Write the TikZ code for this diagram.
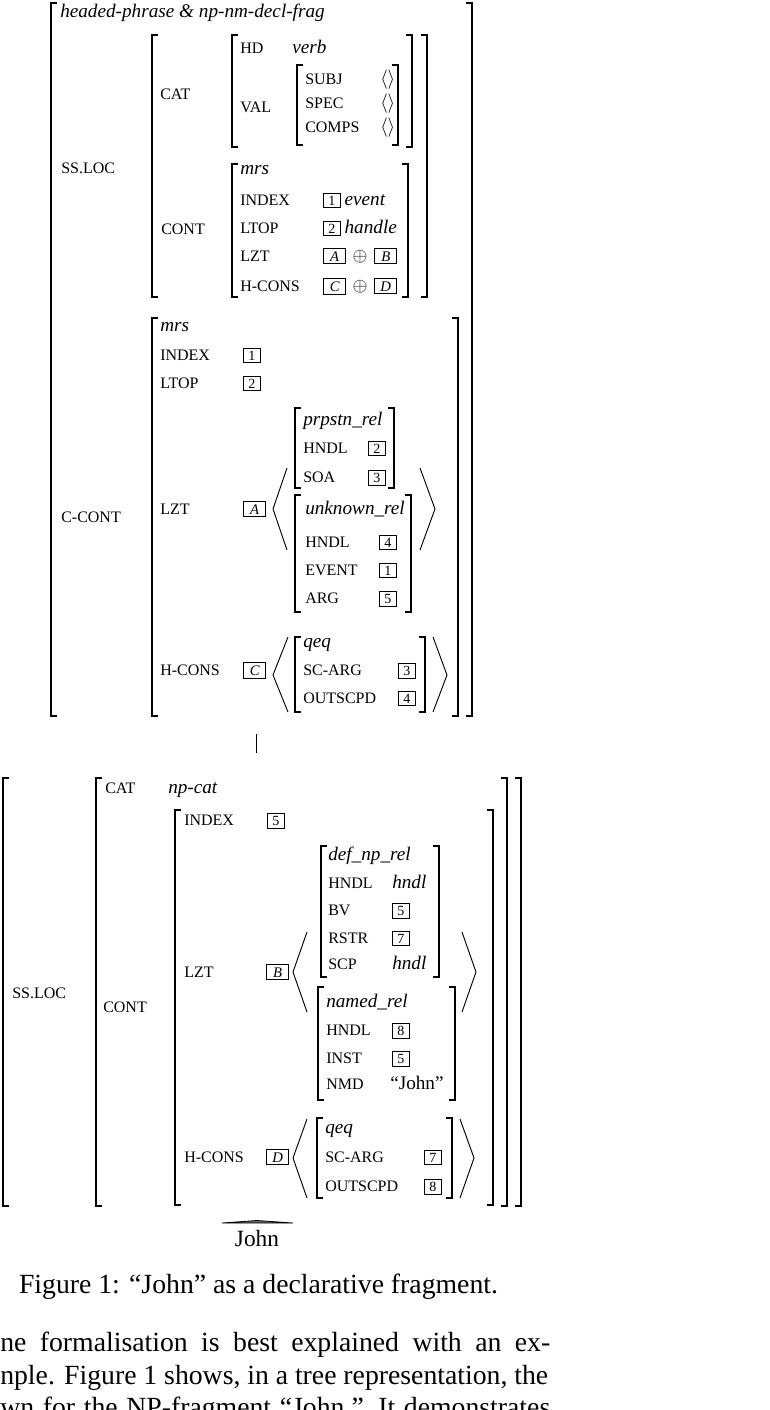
\documentclass[tikz,border=0pt]{standalone}
\usepackage{fontspec}
\setmainfont{Liberation Serif}
% boxed structure-sharing tags
\newcommand\tg[1]{{\setlength\fboxsep{1.8pt}\setlength\fboxrule{0.5pt}\fbox{\makebox[8.4pt]{\fontsize{10.5}{10.5}\selectfont #1}}}}
\newcommand\tgl[1]{{\setlength\fboxsep{1.8pt}\setlength\fboxrule{0.5pt}\fbox{\makebox[12.5pt]{\fontsize{11}{11}\selectfont\itshape #1}}}}
% square brackets of the feature structures
\newcommand\lbk[3]{\draw[brk] ({#1+6},#2) -- (#1,#2) -- (#1,#3) -- ({#1+6},#3);}
\newcommand\rbk[3]{\draw[brk] ({#1-6},#2) -- (#1,#2) -- (#1,#3) -- ({#1-6},#3);}
\tikzset{
  lab/.style={anchor=base west, inner sep=0pt, font=\fontsize{12}{14}\selectfont},
  val/.style={anchor=base west, inner sep=0pt, font=\fontsize{14.4}{17}\selectfont},
  typ/.style={anchor=base west, inner sep=0pt, font=\fontsize{14.4}{17}\selectfont\itshape},
  body/.style={anchor=base west, inner sep=0pt, font=\fontsize{20.8}{25}\selectfont},
  brk/.style={line width=1pt},
  ang/.style={line width=0.7pt},
  edge/.style={line width=0.6pt},
}
\begin{document}
\begin{tikzpicture}[x=0.75pt,y=-0.75pt]
\useasboundingbox (0,0) rectangle (769,1410);
\clip (0,0) rectangle (769,1410);

% ---------------- mother node ----------------
\lbk{51}{3}{716} \rbk{472}{3}{716}
\node[typ] (hp) at (60,17) {headed-phrase \& np-nm-decl-frag};

\node[lab] (sslocA) at (61,173) {SS.LOC};
\lbk{152}{35}{297} \rbk{427}{35}{297}
\node[lab] (catA) at (160,99) {CAT};
\lbk{232}{35}{147} \rbk{412}{35}{147}
\node[lab] (hd) at (240,53) {HD};
\node[typ] (verb) at (292,53) {verb};
\node[lab] (valA) at (240,112) {VAL};
\lbk{297}{65}{145} \rbk{398}{65}{145}
\node[lab] (subj) at (305,84) {SUBJ};
\node[val] (subjv) at (380,84) {$\langle\rangle$};
\node[lab] (spec) at (305,108) {SPEC};
\node[val] (specv) at (380,108) {$\langle\rangle$};
\node[lab] (comps) at (305,132) {COMPS};
\node[val] (compsv) at (380,132) {$\langle\rangle$};

\node[lab] (contA) at (161,234) {CONT};
\lbk{232}{164}{297} \rbk{408}{164}{297}
\node[typ] (mrsA) at (240,174) {mrs};
\node[lab] (indexA) at (240,205) {INDEX};
\node[val] (indexAv) at (323,205) {\tg{1}\hspace{3pt}\textit{event}};
\node[lab] (ltopA) at (240,233) {LTOP};
\node[val] (ltopAv) at (323,233) {\tg{2}\hspace{3pt}\textit{handle}};
\node[lab] (lztA) at (240,261) {LZT};
\node[val] (lztAv) at (323,261) {\tgl{A}\hspace{5pt}$\oplus$\hspace{5pt}\tgl{B}};
\node[lab] (hconsA) at (240,291) {H-CONS};
\node[val] (hconsAv) at (323,291) {\tgl{C}\hspace{5pt}$\oplus$\hspace{5pt}\tgl{D}};

\node[lab] (ccont) at (61,522) {C-CONT};
\lbk{152}{318}{716} \rbk{458}{318}{716}
\node[typ] (mrsB) at (160,331) {mrs};
\node[lab] (indexB) at (160,360) {INDEX};
\node[val] (indexBv) at (243,360) {\tg{1}};
\node[lab] (ltopB) at (160,388) {LTOP};
\node[val] (ltopBv) at (243,388) {\tg{2}};
\node[lab] (lztB) at (160,514) {LZT};
\node[val] (lztBv) at (243,514) {\tgl{A}};
\draw[ang] (287,468) -- (273,509) -- (287,550);
\draw[ang] (420,468) -- (435,509) -- (420,550);

\lbk{295}{408}{488} \rbk{394}{408}{488}
\node[typ] (prp) at (303,425) {prpstn\_rel};
\node[lab] (prph) at (303,453) {HNDL};
\node[val] (prphv) at (368,453) {\tg{2}};
\node[lab] (prps) at (303,482) {SOA};
\node[val] (prpsv) at (368,482) {\tg{3}};

\lbk{295}{495}{612} \rbk{411}{495}{612}
\node[typ] (unk) at (305,514) {unknown\_rel};
\node[lab] (unkh) at (305,547) {HNDL};
\node[val] (unkhv) at (379,547) {\tg{4}};
\node[lab] (unke) at (305,575) {EVENT};
\node[val] (unkev) at (379,575) {\tg{1}};
\node[lab] (unka) at (305,603) {ARG};
\node[val] (unkav) at (379,603) {\tg{5}};

\node[lab] (hconsB) at (160,675) {H-CONS};
\node[val] (hconsBv) at (243,675) {\tgl{C}};
\draw[ang] (288,637) -- (273,675) -- (288,712);
\draw[ang] (433,637) -- (447,675) -- (433,712);
\lbk{295}{637}{712} \rbk{425}{637}{712}
\node[typ] (qeqA) at (303,647) {qeq};
\node[lab] (scA) at (303,675) {SC-ARG};
\node[val] (scAv) at (398,675) {\tg{3}};
\node[lab] (outA) at (303,703) {OUTSCPD};
\node[val] (outAv) at (398,703) {\tg{4}};

% ---------------- tree edge ----------------
\coordinate (mfoot) at (256,734);
\coordinate (dhead) at (256,753);
\draw[edge] (mfoot) -- (dhead);

% ---------------- daughter node ----------------
\lbk{3}{778}{1206} \rbk{521}{778}{1206}
\node[lab] (sslocC) at (12,998) {SS.LOC};
\lbk{96}{778}{1206} \rbk{507}{778}{1206}
\node[lab] (catC) at (105,793) {CAT};
\node[typ] (npcat) at (168,793) {np-cat};
\node[lab] (contC) at (103,1012) {CONT};
\lbk{175}{810}{1205} \rbk{493}{810}{1205}
\node[lab] (indexC) at (184,825) {INDEX};
\node[val] (indexCv) at (267,825) {\tg{5}};
\node[lab] (lztC) at (184,977) {LZT};
\node[val] (lztCv) at (266,977) {\tgl{B}};
\draw[ang] (307,932) -- (293,972) -- (307,1012);
\draw[ang] (462,932) -- (476,972) -- (462,1012);

\lbk{321}{846}{977} \rbk{439}{846}{977}
\node[typ] (def) at (328,860) {def\_np\_rel};
\node[lab] (defh) at (328,888) {HNDL};
\node[typ] (defhv) at (392,888) {hndl};
\node[lab] (defb) at (328,915) {BV};
\node[val] (defbv) at (392,915) {\tg{5}};
\node[lab] (defr) at (328,943) {RSTR};
\node[val] (defrv) at (392,943) {\tg{7}};
\node[lab] (defs) at (328,969) {SCP};
\node[typ] (defsv) at (392,969) {hndl};

\lbk{318}{987}{1100} \rbk{455}{987}{1100}
\node[typ] (nam) at (326,1007) {named\_rel};
\node[lab] (namh) at (326,1035) {HNDL};
\node[val] (namhv) at (392,1035) {\tg{8}};
\node[lab] (nami) at (326,1063) {INST};
\node[val] (namiv) at (392,1063) {\tg{5}};
\node[lab] (namn) at (326,1089) {NMD};
\node[val] (namnv) at (390,1089) {“John”};

\node[lab] (hconsC) at (184,1162) {H-CONS};
\node[val] (hconsCv) at (266,1162) {\tgl{D}};
\draw[ang] (307,1119) -- (293,1158) -- (307,1198);
\draw[ang] (460,1119) -- (474,1158) -- (460,1198);
\lbk{317}{1118}{1198} \rbk{452}{1118}{1198}
\node[typ] (qeqC) at (325,1133) {qeq};
\node[lab] (scC) at (325,1162) {SC-ARG};
\node[val] (scCv) at (424,1162) {\tg{7}};
\node[lab] (outC) at (325,1191) {OUTSCPD};
\node[val] (outCv) at (424,1191) {\tg{8}};

% roof over the leaf
\draw[line width=0.6pt, fill=black!60] (222,1223) -- (257,1220.5) -- (293,1223) -- cycle;
\node[anchor=base, inner sep=0pt, font=\fontsize{17.5}{20}\selectfont] (john) at (257,1246) {John};

% caption and running text
\node[anchor=base, inner sep=0pt, font=\fontsize{20.8}{25}\selectfont] (cap) at (258.5,1293) {Figure 1: “John” as a declarative fragment.};
\node[body] (l1) at (0,1351) {\makebox[412.5pt][s]{ne formalisation is best explained with an ex-}};
\node[body] (l2) at (0,1384) {\makebox[411pt][s]{nple. Figure 1 shows, in a tree representation, the}};
\node[body] (l3) at (0,1416) {\makebox[412.5pt][s]{wn for the NP-fragment “John.” It demonstrates}};
\end{tikzpicture}
\end{document}
